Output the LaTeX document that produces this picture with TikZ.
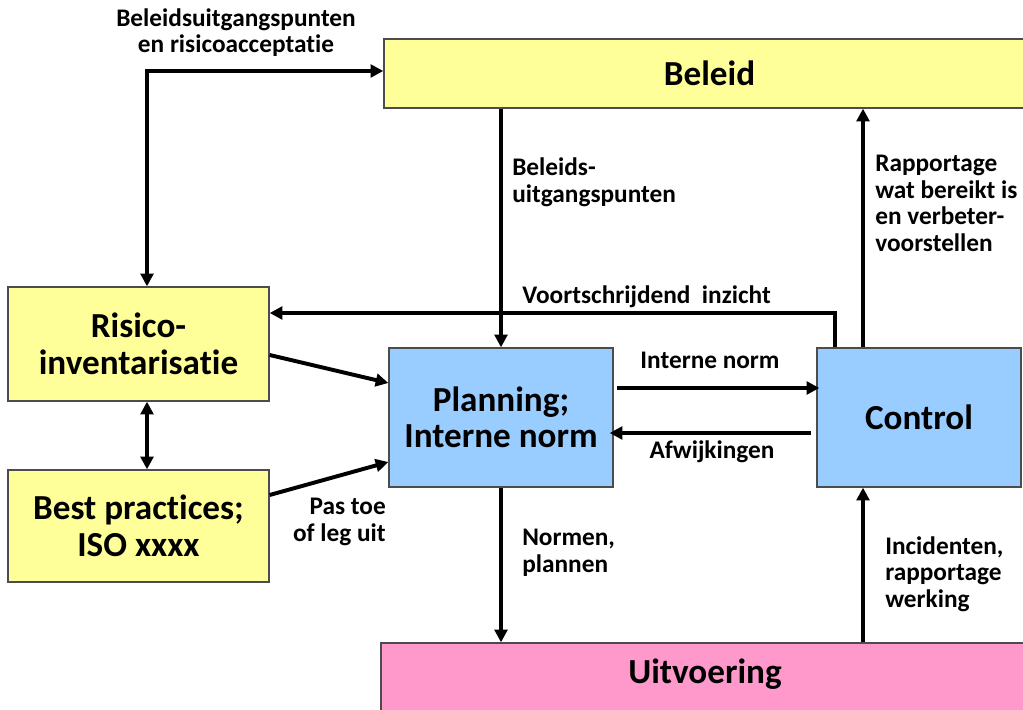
\documentclass[tikz,border=0pt]{standalone}
\usepackage{fontspec}
\setmainfont{Carlito}[Ligatures=NoCommon]
\usetikzlibrary{arrows.meta,calc}
\definecolor{geel}{HTML}{FFFF99}
\definecolor{blauw}{HTML}{99CCFF}
\definecolor{roze}{HTML}{FF99CC}
\begin{document}
\begin{tikzpicture}[x=0.025cm,y=-0.025cm,>={Triangle[length=9pt,width=9pt]}]
\tikzstyle{box}=[draw=black!70,line width=0.9pt,align=center,inner sep=0pt,font=\fontsize{25}{26}\selectfont\bfseries]
\tikzstyle{arr}=[line width=2.8pt]
\tikzstyle{lbl}=[inner sep=0pt,align=left,font=\fontsize{18}{18.8}\selectfont\bfseries]
\useasboundingbox (0,0) rectangle (1023,709);
\node[box,fill=geel,minimum width=16.275cm,minimum height=1.725cm] (B) at (709.5,73.5) {Beleid};
\node[box,fill=geel,minimum width=6.525cm,minimum height=2.85cm] (R) at (138.5,344) {Risico-\\inventarisatie};
\node[box,fill=geel,minimum width=6.525cm,minimum height=2.8cm] (BP) at (138.5,526) {Best practices;\\ISO xxxx};
\node[box,fill=blauw,minimum width=5.6cm,minimum height=3.475cm] (P) at (501,417.5) {Planning;\\Interne norm};
\node[box,fill=blauw,minimum width=5.1cm,minimum height=3.475cm] (C) at (919,417.5) {Control};
\node[box,fill=roze,minimum width=16.2cm,minimum height=2cm,text height=0.5cm,text depth=0.5cm] (U) at (705,683) {Uitvoering};
\coordinate (k) at (147,71);
\coordinate (rc) at (863,0);
\coordinate (vi) at (835,313);
% verbindingen
\draw[arr,<->] (R.north -| k) |- (B.west |- k);
\draw[arr,<->] (R.south -| k) -- (BP.north -| k);
\draw[arr,->] (B.south -| P.north) -- (P.north);
\draw[arr,->] (C.north -| rc) -- (B.south -| rc);
\draw[arr,->] (C.north -| vi) |- (R.east |- vi);
\draw[arr,->] ($(R.east)+(0,11)$) -- ($(P.west)+(0,-34.5)$);
\draw[arr,->] ($(BP.east)+(0,-31)$) -- ($(P.west)+(0,44.5)$);
\draw[arr,->] ($(P.east)+(3,-29.5)$) -- ($(C.west)+(3,-29.5)$);
\draw[arr,->] ($(C.west)+(-5,15.5)$) -- ($(P.east)+(-4,15.5)$);
\draw[arr,->] (P.south) -- (U.north -| P.south);
\draw[arr,->] (U.north -| rc) -- (C.south -| rc);
% teksten
\node[lbl,align=center,anchor=base] (t1) at (236,53) {Beleidsuitgangspunten\\en risicoacceptatie};
\node[lbl,anchor=base west] (t2) at (512,202) {Beleids-\\uitgangspunten};
\node[lbl,anchor=base west] (t3) at (875,251) {Rapportage\\wat bereikt is\\en verbeter-\\voorstellen};
\node[lbl,anchor=base west] (t4) at (522,303) {Voortschrijdend~~inzicht};
\node[lbl,anchor=base] (t5) at (710,368) {Interne norm};
\node[lbl,anchor=base] (t6) at (712,458) {Afwijkingen};
\node[lbl,anchor=base west] (t7) at (522,572) {Normen,\\plannen};
\node[lbl,anchor=base west] (t8) at (885,607) {Incidenten,\\rapportage\\werking};
\node[lbl,align=right,anchor=base east] (t9) at (386,541) {Pas toe\\of leg uit};
\end{tikzpicture}
\end{document}
